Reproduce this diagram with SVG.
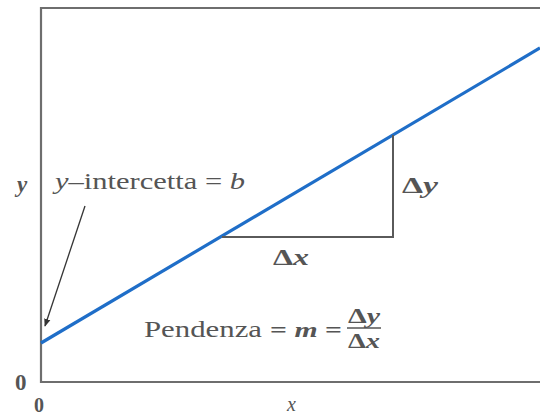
<svg xmlns="http://www.w3.org/2000/svg" width="540" height="419" viewBox="0 0 540 419">
<style>
.t{font-family:"Liberation Serif","Times New Roman",serif;fill:#555}
.b{font-weight:bold}
.i{font-style:italic}
.ax{stroke:#6e6e6e;stroke-width:2.2;fill:none}
.tri{stroke:#5a5a5a;stroke-width:2;fill:none}
</style>
<defs>
<marker id="ah" viewBox="0 0 10 10" refX="9" refY="5" markerWidth="8" markerHeight="8" orient="auto" markerUnits="userSpaceOnUse">
<path d="M0,1 L10,5 L0,9 z" fill="#333"/>
</marker>
</defs>
<rect width="540" height="419" fill="#fff"/>
<g id="frame">
<path class="ax" d="M540,8 H41 V382 H540"/>
</g>
<g id="line">
<line x1="41" y1="343" x2="540" y2="48" stroke="#1f6ec8" stroke-width="3.2"/>
</g>
<g id="connectors">
<path class="tri" d="M222,237 H393 V135"/>
<line x1="85" y1="206" x2="45" y2="326" stroke="#333" stroke-width="1.3" marker-end="url(#ah)"/>
</g>
<g id="labels">
<text class="t b i" x="17" y="192" font-size="23" fill="#333">y</text>
<text class="t" x="55" y="189" font-size="23" textLength="190" lengthAdjust="spacingAndGlyphs"><tspan class="i">y</tspan>–intercetta = <tspan class="i">b</tspan></text>
<text class="t b" x="402" y="193" font-size="23" textLength="36" lengthAdjust="spacingAndGlyphs">Δ<tspan class="i">y</tspan></text>
<text class="t b" x="273" y="265" font-size="23" textLength="36" lengthAdjust="spacingAndGlyphs">Δ<tspan class="i">x</tspan></text>
<text class="t" x="144" y="337" font-size="23" textLength="118" lengthAdjust="spacingAndGlyphs">Pendenza</text>
<text class="t b" x="270" y="337" font-size="22" textLength="72" lengthAdjust="spacingAndGlyphs">= <tspan class="i">m</tspan> =</text>
<text class="t b" x="348" y="323" font-size="20" textLength="32" lengthAdjust="spacingAndGlyphs">Δ<tspan class="i">y</tspan></text>
<line x1="347" y1="328" x2="381" y2="328" stroke="#555" stroke-width="1.5"/>
<text class="t b" x="348" y="348" font-size="20" textLength="32" lengthAdjust="spacingAndGlyphs">Δ<tspan class="i">x</tspan></text>
<text class="t b" x="15" y="390" font-size="23">0</text>
<text class="t b" x="34" y="412" font-size="20">0</text>
<text class="t i" x="287" y="411" font-size="20">x</text>
</g>
</svg>
